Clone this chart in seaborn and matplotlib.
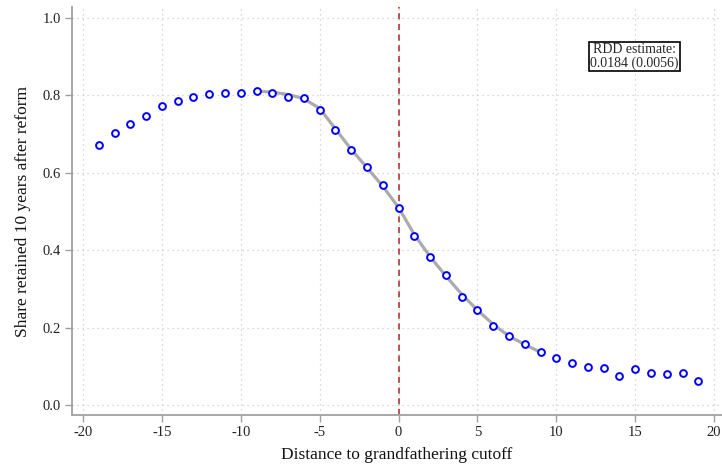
import matplotlib
matplotlib.use("Agg")
import matplotlib.pyplot as plt
import numpy as np
import pandas as pd
import seaborn as sns

# binned means
distance = list(range(-19, 20))
share = [
    0.672, 0.703, 0.725, 0.746, 0.773, 0.784, 0.796, 0.804, 0.806, 0.805,
    0.811, 0.807, 0.796, 0.794, 0.763, 0.710, 0.659, 0.614, 0.568, 0.508,
    0.437, 0.382, 0.335, 0.279, 0.246, 0.203, 0.178, 0.157, 0.136, 0.122,
    0.108, 0.097, 0.096, 0.076, 0.094, 0.082, 0.081, 0.083, 0.061,
]

# fitted curve inside the bandwidth
fit_x = list(range(-9, 10))
fit_y = [
    0.811, 0.808, 0.802, 0.791, 0.766, 0.713, 0.660, 0.613, 0.565, 0.510,
    0.440, 0.383, 0.333, 0.286, 0.245, 0.208, 0.178, 0.156, 0.136,
]

x_ticks = [-20, -15, -10, -5, 0, 5, 10, 15, 20]
y_ticks = [0.0, 0.2, 0.4, 0.6, 0.8, 1.0]

df = pd.DataFrame({"distance": distance, "share": share})
fit = pd.DataFrame({"distance": fit_x, "share": fit_y})

sns.set_theme(style="white")
plt.rcParams["font.family"] = ["Liberation Serif", "DejaVu Serif"]

fig = plt.figure(figsize=(7.22, 4.66), dpi=100)
ax = fig.add_axes([0.0997, 0.1094, 0.9003, 0.8756])

sns.lineplot(data=fit, x="distance", y="share", color="#ababab", linewidth=2.3, ax=ax, zorder=2)
sns.scatterplot(
    data=df, x="distance", y="share", marker="o", s=24,
    facecolor="white", edgecolor="blue", linewidth=1.4, ax=ax, zorder=3,
)
ax.axvline(0, color="#a52a2a", linestyle=(0, (4, 3)), linewidth=1.1, zorder=1)

ax.text(14.95, 0.90, "RDD estimate:\n0.0184 (0.0056)", ha="center", va="center",
        fontsize=10, linespacing=1.0,
        bbox=dict(boxstyle="square,pad=0.12", facecolor="white", edgecolor="black", linewidth=1.2))

ax.set_xlim(-20.7, 20.5)
ax.set_ylim(-0.026, 1.028)
ax.set_xticks(x_ticks)
ax.set_yticks(y_ticks)
ax.set_xticklabels([str(t) for t in x_ticks])
ax.set_yticklabels([f"{t:.1f}" for t in y_ticks])
ax.grid(True, linestyle=(0, (1, 3)), color="#cccccc", linewidth=0.9)
ax.tick_params(axis="both", which="major", direction="out", length=5, width=1,
               color="#a0a0a0", labelsize=10.5, labelcolor="#222222", pad=3,
               bottom=True, left=True)

for side in ["top", "right"]:
    ax.spines[side].set_visible(False)
for side in ["left", "bottom"]:
    ax.spines[side].set_color("#a0a0a0")
    ax.spines[side].set_linewidth(1.3)

ax.set_xlabel("Distance to grandfathering cutoff", fontsize=12.5, color="#111111", labelpad=6)
ax.set_ylabel("Share retained 10 years after reform", fontsize=12.5, color="#111111", labelpad=8)

fig.savefig("out.png", dpi=100)
